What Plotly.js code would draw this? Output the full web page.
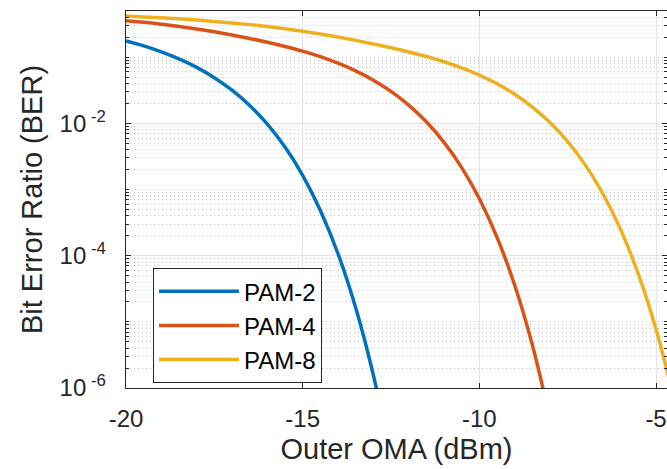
<!DOCTYPE html>
<html><head><meta charset="utf-8">
<script src="https://cdn.plot.ly/plotly-3.0.1.min.js"></script>
<style>html,body{margin:0;padding:0;background:#fff;}#chart{width:667px;height:469px;}</style>
</head><body><div id="chart"></div>
<script>
// Outer OMA (dBm) sample positions
const omaPam2 = [-20,-19.5,-19,-18.5,-18,-17.5,-17,-16.5,-16,-15.5,-15,-14.5,-14,-13.5,-13,-12.5];
const berPam2 = [0.1762,0.1485,0.1208,0.0944,0.0702,0.04905,0.0317,0.01866,0.00973,0.00438,0.001636,4.83e-4,1.07e-4,1.63e-5,1.57e-6,8.5e-8];

const omaPam4 = [-20,-19.5,-19,-18.5,-18,-17.5,-17,-16.5,-16,-15.5,-15,-14.5,-14,-13.5,-13,-12.5,-12,-11.5,-11,-10.5,-10,-9.5,-9,-8.5,-8];
const berPam4 = [0.3567,0.3372,0.3152,0.2918,0.2671,0.2420,0.2168,0.1922,0.1686,0.1457,0.1236,0.1020,0.0814,0.0623,0.04505,0.03045,0.0189,0.010565,0.005172,0.002149,7.26e-4,1.893e-4,3.567e-5,4.466e-6,3.36e-7];

const omaPam8 = [-20,-19.5,-19,-18.5,-18,-17.5,-17,-16.5,-16,-15.5,-15,-14.5,-14,-13.5,-13,-12.5,-12,-11.5,-11,-10.5,-10,-9.5,-9,-8.5,-8,-7.5,-7,-6.5,-6,-5.5,-5,-4.5];
const berPam8 = [0.4185,0.4071,0.3944,0.3804,0.3649,0.3482,0.3303,0.3112,0.2908,0.2694,0.2472,0.2245,0.2020,0.1799,0.1589,0.1390,0.1202,0.1025,0.0854,0.0691,0.0537,0.0397,0.02759,0.01766,0.010274,0.005288,0.00234,8.56e-4,2.463e-4,5.27e-5,7.71e-6,7.08e-7];

const seriesNames = ['PAM-2','PAM-4','PAM-8'];
const xTickVals = [-20,-15,-10,-5];
const xTickText = ['-20','-15','-10','-5'];
const yTickVals = [1e-6,1e-4,1e-2];
const yTickText = ['10<sup> -6</sup>','10<sup> -4</sup>','10<sup> -2</sup>'];

// minor grid positions (2..9 x 10^n and odd decades)
const yMinorVals = [];
for (let e = -6; e <= -1; e++) {
  for (let m = 1; m <= 9; m++) {
    const v = m * Math.pow(10, e);
    if (m === 1 && (e % 2 === 0)) continue;
    if (v > 0.5) continue;
    yMinorVals.push(v);
  }
}

const colors = ['#0072BD','#D95319','#EDB120'];
const lw = 3.5;
const traces = [
  {x: omaPam2, y: berPam2, name: seriesNames[0], mode: 'lines', line: {color: colors[0], width: lw, shape: 'spline'}},
  {x: omaPam4, y: berPam4, name: seriesNames[1], mode: 'lines', line: {color: colors[1], width: lw, shape: 'spline'}},
  {x: omaPam8, y: berPam8, name: seriesNames[2], mode: 'lines', line: {color: colors[2], width: lw, shape: 'spline'}}
];

const axCol = '#262626';
const font = 'Liberation Sans, Arial, Helvetica, sans-serif';
const layout = {
  width: 667, height: 469,
  margin: {l: 126, r: 0, t: 11, b: 81, pad: 0},
  paper_bgcolor: '#ffffff', plot_bgcolor: '#ffffff',
  font: {family: font, color: axCol, size: 24},
  showlegend: true,
  legend: {
    x: 0.0499, y: 0.318, xanchor: 'left', yanchor: 'top',
    bgcolor: '#ffffff', bordercolor: axCol, borderwidth: 1,
    font: {family: font, size: 24, color: '#000000'},
    itemwidth: 80, tracegroupgap: 0
  },
  xaxis: {
    range: [-20, -4.69], tickmode: 'array', tickvals: xTickVals, ticktext: xTickText,
    ticks: 'inside', ticklen: 5, tickwidth: 1, tickcolor: axCol,
    showline: true, linecolor: axCol, linewidth: 1.3, mirror: 'ticks',
    showgrid: true, gridcolor: '#e3e3e3', gridwidth: 1, zeroline: false,
    tickfont: {family: font, size: 24, color: axCol},
    ticklabelstandoff: 9,
    title: {text: 'Outer OMA (dBm)', font: {family: font, size: 29, color: axCol}, standoff: 7}
  },
  yaxis: {
    type: 'log', range: [-6, Math.log10(0.5)],
    tickmode: 'array', tickvals: yTickVals, ticktext: yTickText,
    ticks: 'inside', ticklen: 5, tickwidth: 1, tickcolor: axCol,
    showline: true, linecolor: axCol, linewidth: 1.3, mirror: 'ticks',
    showgrid: true, gridcolor: '#e3e3e3', gridwidth: 1, zeroline: false,
    tickfont: {family: font, size: 24, color: axCol},
    ticklabelstandoff: 14,
    minor: {tickmode: 'array', tickvals: yMinorVals, ticks: 'inside', ticklen: 3, tickcolor: axCol,
            showgrid: true, gridcolor: '#c4c4c4', gridwidth: 1, griddash: '1px,3px'},
    title: {text: 'Bit Error Ratio (BER)', font: {family: font, size: 29, color: axCol}, standoff: 8}
  }
};

Plotly.newPlot('chart', traces, layout, {staticPlot: true, displayModeBar: false}).then(function (gd) {
  gd.querySelectorAll('.legendlines path').forEach(function (p) { p.setAttribute('d', 'M5,0h80'); });
});
</script></body></html>
